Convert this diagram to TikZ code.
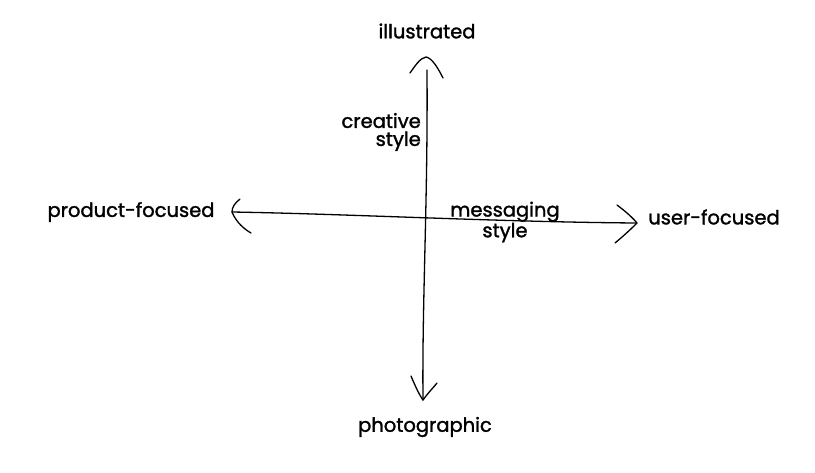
\documentclass[tikz,border=0pt]{standalone}
\usepackage{fontspec}
\setmainfont{Poppins}[FakeBold=1.5,AutoFakeBold=1.5]
\begin{document}
\begin{tikzpicture}[x=1pt,y=-1pt,
  lbl/.style={font=\fontsize{19.5}{18}\selectfont\bfseries, text=black, inner sep=0pt},
  stroke/.style={draw=black, line width=1.3pt, line cap=round, line join=round}]
\useasboundingbox (0,0) rectangle (815,472);
% axis end points
\coordinate (top) at (426,57);
\coordinate (bot) at (423,400);
\coordinate (lft) at (232,212);
\coordinate (rgt) at (637,223);
% vertical axis
\draw[stroke] (427,70) .. controls (428,200) and (422,300) .. (bot);
\draw[stroke] (410,73) .. controls (415,66) and (420,58) .. (top) .. controls (432,58) and (438,68) .. (443,78);
\draw[stroke] (411,376) .. controls (416,388) and (420,396) .. (bot) .. controls (428,393) and (433,388) .. (437,383);
% horizontal axis
\draw[stroke] (lft) .. controls (350,214) and (500,222) .. (rgt);
\draw[stroke] (240,199) .. controls (235,203) and (232,207) .. (lft) .. controls (236,222) and (244,229) .. (251,233);
\draw[stroke] (617,205) .. controls (625,211) and (632,217) .. (rgt) .. controls (628,232) and (621,238) .. (615,243);
% labels
\node[lbl] (ill) at (427,31) {illustrated};
\node[lbl] (pho) at (425,427) {photographic};
\node[lbl] (pro) at (131,212) {product-focused};
\node[lbl] (usr) at (714,217) {user-focused};
\node[lbl, align=right, anchor=east] (cre) at (421,132) {creative\\style};
\node[lbl, align=center] (msg) at (505,222) {messaging\\style};
\end{tikzpicture}
\end{document}
